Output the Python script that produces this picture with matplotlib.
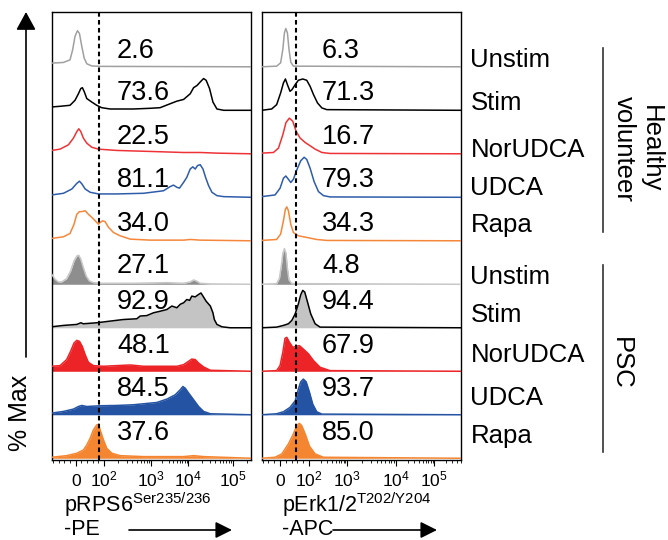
import numpy as np
import matplotlib
matplotlib.use("Agg")
import matplotlib.pyplot as plt

plt.rcParams['font.family'] = ['Liberation Sans', 'DejaVu Sans']
plt.rcParams['mathtext.fontset'] = 'custom'
plt.rcParams['mathtext.rm'] = 'Liberation Sans'
plt.rcParams['mathtext.it'] = 'Liberation Sans'

# ---------------- data ----------------
conditions = ["Unstim", "Stim", "NorUDCA", "UDCA", "Rapa",
              "Unstim", "Stim", "NorUDCA", "UDCA", "Rapa"]
groups = ["Healthy\nvolunteer", "PSC"]

rps6_pct = ["2.6", "73.6", "22.5", "81.1", "34.0", "27.1", "92.9", "48.1", "84.5", "37.6"]
erk_pct = ["6.3", "71.3", "16.7", "79.3", "34.3", "4.8", "94.4", "67.9", "93.7", "85.0"]

tick_labels = ["0", "$10^2$", "$10^3$", "$10^4$", "$10^5$"]

# histogram traces: x in display channel (0-1000), y in % of max (row height)
rps6_x = [
    [0, 59, 92, 105, 117, 129, 139, 151, 163, 176, 201, 243, 1000],
    [0, 42, 92, 117, 134, 146, 154, 164, 176, 201, 226, 251, 293, 410, 494, 544, 594, 628, 662, 695,
     712, 729, 745, 762, 775, 792, 809, 829, 863, 1000],
    [0, 42, 84, 109, 126, 136, 146, 159, 176, 201, 235, 327, 494, 662, 745, 829, 1000],
    [0, 59, 101, 126, 139, 151, 168, 193, 235, 327, 461, 561, 594, 611, 628, 641, 662, 678, 695, 708,
     720, 732, 745, 759, 772, 787, 804, 829, 863, 1000],
    [0, 59, 92, 112, 126, 139, 151, 168, 184, 201, 218, 235, 243, 256, 268, 285, 310, 343, 394, 494,
     662, 695, 745, 1000],
    [0, 17, 33, 50, 75, 95, 112, 126, 136, 146, 159, 173, 189, 209, 243, 410, 578, 662, 695, 712,
     725, 745, 796, 1000],
    [0, 59, 126, 146, 159, 226, 293, 360, 427, 444, 477, 511, 544, 578, 603, 628, 645, 662, 678, 692,
     703, 720, 737, 749, 759, 775, 796, 809, 816, 829, 854, 896, 1000],
    [0, 42, 75, 95, 112, 126, 139, 153, 168, 184, 209, 260, 327, 394, 461, 528, 628, 662, 687, 703,
     720, 737, 762, 796, 1000],
    [0, 59, 109, 134, 151, 176, 243, 327, 410, 461, 528, 578, 620, 645, 658, 670, 687, 712, 737, 762,
     796, 1000],
    [0, 75, 126, 159, 176, 193, 209, 226, 235, 243, 260, 276, 302, 343, 461, 662, 712, 762, 1000],
]
rps6_y = [
    [8.4, 10, 16, 39, 70, 83, 77, 47, 20, 7, 2, 1, 0],
    [7.7, 9.2, 11.5, 23, 38, 50, 52, 42, 27, 19, 11.5, 6, 3, 3, 4.6, 6, 15, 21, 25, 38,
     52, 57, 65, 73, 69, 50, 19, 3, 0, 0],
    [7.7, 10.7, 20.7, 36, 51, 57.5, 51, 36, 24.5, 15, 10.7, 7.7, 5.4, 3, 3, 1.5, 0],
    [5.4, 9.2, 19, 32, 37, 31, 19, 11.5, 7.7, 7.7, 9.2, 15, 24.5, 28, 23, 21, 34.5, 46, 65, 70,
     65, 73, 75, 65, 46, 27, 11.5, 3.8, 1.5, 0],
    [5.4, 9.2, 16.9, 38, 61, 67, 67, 69, 61, 54, 46, 38, 42, 46, 44, 31, 19, 11.5, 3.8, 1.5,
     1.5, 3, 1.5, 0],
    [23, 11.5, 5.4, 5.4, 13, 30.6, 53.6, 65, 66.7, 57.5, 38, 19, 7.7, 3.8, 2.3, 2.3, 3.8, 2.3, 5.4, 10,
     7.7, 2.3, 0.8, 0],
    [2.3, 5.4, 7.7, 11.5, 9.2, 11.5, 15.3, 19, 20.7, 27, 28, 34.5, 38, 42, 50, 46, 54, 57.5, 65, 63,
     72.8, 71, 76.6, 80, 72.8, 61, 50, 34.5, 19, 7.7, 2.3, 0, 0],
    [11.5, 13, 26.8, 46, 65, 71, 69, 57.5, 38, 20.7, 13, 11.5, 13, 14.5, 11.5, 11.5, 11.5, 15.3, 23, 28,
     27, 19, 10, 2.3, 0],
    [3.8, 7.7, 13, 19, 21.4, 19, 20.7, 21.4, 23, 25.3, 28.3, 36, 46, 57.5, 65, 61, 50, 34.5, 19, 7.7,
     2.3, 0],
    [2.3, 6, 11.5, 19, 30.6, 46, 65, 76.6, 78, 65, 42, 23, 11.5, 6, 3.8, 3.8, 6, 3.8, 0],
]

erk_x = [
    [0, 75, 95, 106, 114, 121, 129, 137, 146, 159, 1000],
    [0, 50, 75, 95, 109, 119, 129, 142, 152, 168, 184, 206, 226, 243, 260, 280, 302, 327, 1000],
    [0, 59, 84, 106, 122, 139, 156, 173, 193, 218, 243, 268, 302, 343, 1000],
    [0, 67, 92, 109, 121, 134, 146, 159, 176, 196, 213, 226, 243, 263, 285, 310, 343, 1000],
    [0, 75, 95, 109, 119, 126, 134, 146, 159, 184, 226, 276, 327, 1000],
    [0, 75, 89, 99, 106, 114, 122, 129, 137, 151, 1000],
    [0, 75, 109, 134, 151, 168, 184, 196, 206, 216, 230, 246, 268, 293, 1000],
    [0, 75, 92, 106, 117, 126, 139, 156, 173, 189, 209, 235, 260, 293, 343, 1000],
    [0, 75, 109, 142, 168, 184, 196, 209, 223, 240, 256, 276, 302, 1000],
    [0, 67, 101, 134, 159, 176, 189, 201, 218, 240, 268, 310, 1000],
]
erk_y = [
    [0, 1.5, 9.2, 39.8, 78, 88, 78, 39.8, 10.7, 1.5, 0],
    [0, 3, 13, 39.8, 62.8, 72, 59, 43.7, 47.5, 59, 69, 72, 69, 55, 36, 16.9, 5.4, 1.5, 0],
    [1.5, 3, 13, 43.7, 72, 82, 74.6, 51.3, 36, 26, 18.4, 10.7, 3, 0.8, 0],
    [1.5, 5.4, 20.7, 43.7, 49, 41.4, 34, 41.4, 62.8, 84, 92, 87, 66.7, 36, 13, 3.8, 0.8, 0],
    [0.8, 3, 15.3, 46, 72.8, 78, 69, 38, 19, 11.5, 7.7, 3, 0.8, 0],
    [0, 1.5, 13.8, 44.4, 71, 82, 71, 36.8, 10, 1.5, 0],
    [0, 1.5, 5.4, 9.2, 16.9, 32, 55, 76, 86, 82, 59, 32, 9.2, 1.5, 0],
    [0, 1.5, 13, 43.7, 75.8, 78, 67, 55, 57.5, 59, 51, 39.8, 24.5, 9.2, 1.5, 0],
    [0, 2.3, 6.9, 16.9, 32, 59, 75.8, 82, 75.8, 51.3, 24.5, 6.9, 1.5, 0],
    [0, 2.3, 10, 33, 56, 75, 80.4, 75, 56, 27.6, 10, 2.3, 0],
]

rps6_gate = 238
erk_gate = 171

# ---------------- styles / layout ----------------
W, H = 668, 540
line_colors = ['#a0a0a0', '#000000', '#ee3337', '#2e5ca9', '#f5873a',
               '#c8c8c8', '#000000', '#ec2427', '#2453a3', '#f58631']
fill_colors = [None, None, None, None, None,
               '#8e8e8e', '#c4c4c4', '#ec2427', '#2453a3', '#f58631']
rps6_ticks = [121, 263, 499, 685, 910]
erk_ticks = [92, 238, 429, 675, 866]
text_off = [0.37, 0.40, 0.39, 0.39, 0.39, 0.42, 0.60, 0.57, 0.59, 0.57]

fig = plt.figure(figsize=(W / 100, H / 100), dpi=100)


def fx(px):
    return px / W


def fy(py):
    return 1 - py / H


def minor_positions(p):
    out = []
    for f in np.arange(-0.8, 1.0, 0.2):
        if abs(f) > 1e-6:
            out.append(p[0] + (p[1] - p[0]) * f)
    for i in range(1, 4):
        for m in range(2, 10):
            out.append(p[i] + (p[i + 1] - p[i]) * np.log10(m))
    for m in range(2, 10):
        v = p[4] + (p[4] - p[3]) * np.log10(m)
        if v < 1000:
            out.append(v)
    return [v for v in out if 0 <= v <= 1000]


def panel(left_px, xs, ys, pcts, gate, ticks, text_x):
    ax = fig.add_axes([fx(left_px), fy(460), 199.3 / W, 448 / H])
    ax.set_xlim(0, 1000)
    ax.set_ylim(-0.04, 10.26)
    n = len(xs)
    for i in range(n):
        base = n - 1 - i
        x = np.array(xs[i], float)
        y = base + np.array(ys[i], float) / 100.0
        if fill_colors[i] is not None:
            ax.fill_between(x, base, y, color=fill_colors[i], lw=0, zorder=2 + i * 0.01)
        ax.plot(x, y, color=line_colors[i], lw=1.1, zorder=3 + i * 0.01,
                solid_joinstyle='round')
        ax.text(text_x, base + text_off[i], pcts[i], fontsize=19.5, ha='left',
                va='center', zorder=6)
    ax.axvline(gate, color='k', lw=1.5, ls=(0, (2.2, 1.6)), zorder=5)
    ax.set_yticks([])
    ax.set_xticks(ticks)
    ax.set_xticklabels([])
    ax.set_xticks(minor_positions(ticks), minor=True)
    ax.tick_params(axis='x', which='major', direction='out', length=4, width=0.8)
    ax.tick_params(axis='x', which='minor', direction='out', length=2.5, width=0.6)
    for sp in ax.spines.values():
        sp.set_linewidth(1.0)
    for pos, lbl in zip(ticks, tick_labels):
        ax.annotate(lbl, xy=(pos, 0), xycoords=('data', 'axes fraction'),
                    xytext=(0, -19), textcoords='offset points',
                    ha='center', va='baseline', fontsize=12.5)
    return ax


axL = panel(51.7, rps6_x, rps6_y, rps6_pct, rps6_gate, rps6_ticks, 328)
axR = panel(261.7, erk_x, erk_y, erk_pct, erk_gate, erk_ticks, 303)

# row labels
label_base = [66.8, 110.2, 156.8, 195.2, 231.8, 283.5, 321.8, 361.8, 405.2, 443.5]
for lbl, b in zip(conditions, label_base):
    fig.text(fx(470.5), fy(b), lbl, fontsize=18.5, ha='left', va='baseline')

# brackets
fig.add_artist(plt.Line2D([fx(602.7), fx(602.7)], [fy(48), fy(232)], color='#333333', lw=1.2))
fig.add_artist(plt.Line2D([fx(602.7), fx(602.7)], [fy(265), fy(452)], color='#333333', lw=1.2))
fig.text(fx(637), fy(149), groups[0], fontsize=18.5, rotation=270, ha='center', va='center',
         linespacing=1.15, multialignment='center')
fig.text(fx(621), fy(363), groups[1], fontsize=18.5, rotation=270, ha='center', va='center')

# y-axis label and arrow
fig.text(fx(20), fy(413), "% Max", fontsize=18, rotation=90, ha='center', va='center')
fig.add_artist(matplotlib.patches.FancyArrowPatch(
    (fx(26), fy(357)), (fx(26), fy(12)), transform=fig.transFigure,
    arrowstyle='-|>,head_length=0.55,head_width=0.3', mutation_scale=20,
    color='k', lw=1.2, shrinkA=0, shrinkB=0))

# x-axis labels
fig.text(fx(64), fy(512), "pRPS6$^{\\mathrm{Ser235/236}}$", fontsize=15.5, ha='left', va='baseline')
fig.text(fx(64), fy(540), "-PE", fontsize=15.5, ha='left', va='bottom')
fig.text(fx(282), fy(512), "pErk1/2$^{\\mathrm{T202/Y204}}$", fontsize=15.5, ha='left', va='baseline')
fig.text(fx(282), fy(540), "-APC", fontsize=15.5, ha='left', va='bottom')
for x0, x1 in [(129, 232), (333, 437)]:
    fig.add_artist(matplotlib.patches.FancyArrowPatch(
        (fx(x0), fy(530)), (fx(x1), fy(530)), transform=fig.transFigure,
        arrowstyle='-|>,head_length=0.5,head_width=0.25', mutation_scale=20,
        color='k', lw=1.2, shrinkA=0, shrinkB=0))

fig.savefig("out.png", dpi=100)
